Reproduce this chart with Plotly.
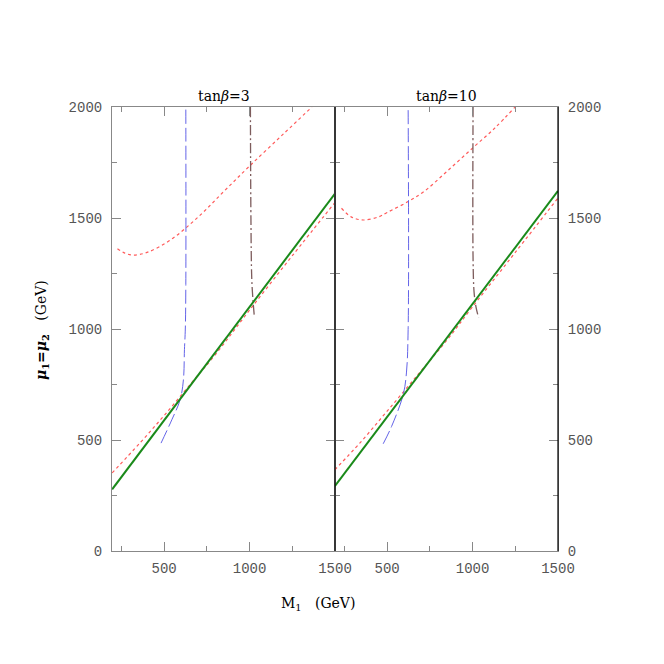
import plotly.graph_objects as go

# ---------------- data ----------------
# tan(beta)=3 panel
green3_x = [196, 282, 857, 1500]
green3_y = [278, 366, 953, 1610]
red_low3_x = [196, 360, 500, 660, 800, 1000, 1250, 1500]
red_low3_y = [352, 488, 610, 757, 885, 1085, 1330, 1570]
red_up3_x = [227, 270, 320, 400, 535, 700, 850, 1000, 1200, 1365]
red_up3_y = [1362, 1342, 1333, 1345, 1400, 1505, 1620, 1734, 1880, 2000]
blue3_x = [482, 545, 594, 613, 619, 624, 627, 627]
blue3_y = [486, 591, 682, 772, 907, 1000, 1200, 2000]
dd3_x = [1005, 1008, 1013, 1020, 1027]
dd3_y = [2000, 1500, 1223, 1130, 1065]

# tan(beta)=10 panel
green10_x = [194, 340, 887, 1500]
green10_y = [292, 441, 998, 1622]
red_low10_x = [194, 340, 500, 681, 850, 1000, 1250, 1500]
red_low10_y = [366, 486, 630, 795, 950, 1100, 1345, 1590]
red_up10_x = [233, 290, 360, 450, 500, 623, 720, 850, 1000, 1130, 1249]
red_up10_y = [1544, 1505, 1491, 1505, 1525, 1574, 1622, 1710, 1815, 1905, 2000]
blue10_x = [477, 526, 594, 613, 623, 623]
blue10_y = [483, 561, 704, 802, 998, 2000]
dd10_x = [1003, 1003, 1009, 1020, 1035]
dd10_y = [2000, 1314, 1165, 1100, 1051]

x_ticks = [500, 1000, 1500]
y_ticks = [0, 500, 1000, 1500, 2000]
titles = ["tan<i>β</i>=3", "tan<i>β</i>=10"]

# ---------------- figure ----------------
GREEN = "#1a8a1a"
RED = "#ff5a5a"
BLUE = "#6464e8"
BROWN = "#7d5c5c"

fig = go.Figure()

def add_panel(xa, ya, gx, gy, rlx, rly, rux, ruy, bx, by, dx, dy):
    kw = dict(xaxis=xa, yaxis=ya, mode="lines", showlegend=False, hoverinfo="skip")
    fig.add_trace(go.Scatter(x=rux, y=ruy, line=dict(color=RED, width=1.2, dash="dot", shape="spline"), **kw))
    fig.add_trace(go.Scatter(x=rlx, y=rly, line=dict(color=RED, width=1.2, dash="dot", shape="spline"), **kw))
    fig.add_trace(go.Scatter(x=bx, y=by, line=dict(color=BLUE, width=1, dash="14px,4px", shape="spline"), **kw))
    fig.add_trace(go.Scatter(x=dx, y=dy, line=dict(color=BROWN, width=1.3, dash="10px,3px,2px,3px", shape="spline"), **kw))
    fig.add_trace(go.Scatter(x=gx, y=gy, line=dict(color=GREEN, width=2), **kw))

add_panel("x", "y", green3_x, green3_y, red_low3_x, red_low3_y, red_up3_x, red_up3_y,
          blue3_x, blue3_y, dd3_x, dd3_y)
add_panel("x2", "y2", green10_x, green10_y, red_low10_x, red_low10_y, red_up10_x, red_up10_y,
          blue10_x, blue10_y, dd10_x, dd10_y)

W = H = 664
OFF = 8  # page body margin offset in the screenshot
x0, xm, x1 = (112 - OFF) / W, (335 - OFF) / W, (558 - OFF) / W
yb, yt = 1 - (551 - OFF) / H, 1 - (107 - OFF) / H

tickfont = dict(family="Liberation Mono", size=14, color="#555555")
xcommon = dict(range=[195, 1500], tickvals=x_ticks, ticks="inside", ticklen=9, tickcolor="#888888",
               showline=True, linecolor="#888888", linewidth=1, mirror="ticks", showgrid=False,
               zeroline=False, tickfont=tickfont, automargin=False, ticklabelstandoff=4,
               minor=dict(tickvals=[250, 750, 1250], ticks="inside", ticklen=5, tickcolor="#888888"))
ycommon = dict(range=[0, 2000], tickvals=y_ticks, ticks="inside", ticklen=9, tickcolor="#888888",
               showline=True, linecolor="#888888", linewidth=1, mirror="ticks", showgrid=False,
               zeroline=False, tickfont=tickfont, automargin=False, ticklabelstandoff=6,
               minor=dict(tickvals=[250, 750, 1250, 1750], ticks="inside", ticklen=5, tickcolor="#888888"))

fig.update_layout(
    width=W, height=H, margin=dict(l=0, r=0, t=0, b=0, autoexpand=False),
    paper_bgcolor="white", plot_bgcolor="white",
    xaxis=dict(domain=[x0, xm], anchor="y", **xcommon),
    yaxis=dict(domain=[yb, yt], anchor="x", side="left", **ycommon),
    xaxis2=dict(domain=[xm, x1], anchor="y2", **xcommon),
    yaxis2=dict(domain=[yb, yt], anchor="x2", side="right", **ycommon),
)

# black divider and right frame edge
for xp in (xm, x1):
    fig.add_shape(type="line", xref="paper", yref="paper", x0=xp, x1=xp, y0=yb, y1=yt,
                  line=dict(color="black", width=1.2))

tfont = dict(family="DejaVu Serif", size=14, color="black")
fig.add_annotation(text=titles[0], xref="paper", yref="paper", xanchor="center",
                   x=(x0 + xm) / 2, y=yt, yanchor="bottom", showarrow=False, font=tfont, yshift=1)
fig.add_annotation(text=titles[1], xref="paper", yref="paper", xanchor="center",
                   x=(xm + x1) / 2, y=yt, yanchor="bottom", showarrow=False, font=tfont, yshift=1)
fig.add_annotation(text="M<sub>1</sub>   (GeV)", xref="paper", yref="paper", xanchor="center",
                   yanchor="middle",
                   x=(318 - OFF) / W, y=1 - (604 - OFF) / H, showarrow=False,
                   font=dict(family="DejaVu Serif", size=14, color="black"))
fig.add_annotation(text="<b><i>μ</i><sub>1</sub>=<i>μ</i><sub>2</sub></b>   (GeV)", xref="paper", yref="paper",
                   xanchor="center", yanchor="middle",
                   x=(42 - OFF) / W, y=1 - (330 - OFF) / H, showarrow=False, textangle=-90,
                   font=dict(family="DejaVu Serif", size=14, color="black"))

fig.write_html("out.html")
